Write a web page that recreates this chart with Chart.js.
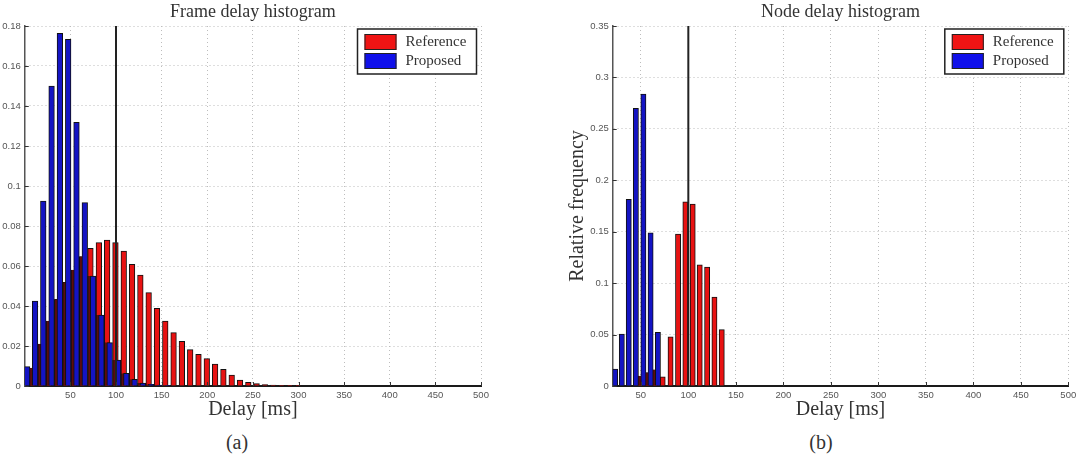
<!DOCTYPE html>
<html>
<head>
<meta charset="utf-8">
<script src="https://cdn.jsdelivr.net/npm/chart.js@4.4.0/dist/chart.umd.min.js"></script>
<style>
  body { margin: 0; background: #fff; width: 1081px; height: 462px; overflow: hidden; position: relative; }
  canvas { position: absolute; top: 0; }
  #frameChart { left: 0; }
  #nodeChart { left: 540px; }
  .caption { position: absolute; top: 430px; width: 60px; text-align: center; font: 20px "Liberation Serif", serif; color: #333; line-height: 24px; }
</style>
</head>
<body>
<canvas id="frameChart" width="490" height="425"></canvas>
<canvas id="nodeChart" width="541" height="425"></canvas>
<div class="caption" style="left:207px">(a)</div>
<div class="caption" style="left:791px">(b)</div>
<script>
const seriesNames = ['Reference', 'Proposed'];
const delayThreshold = 100;

// (a) frame delay histogram
const frameRefDelay = [8.3, 17.4, 26.5, 35.6, 44.7, 53.8, 62.9, 72.0, 81.2, 90.3, 99.4, 108.5, 117.6, 126.7, 135.8, 144.9, 154.0,
  163.1, 172.2, 181.3, 190.4, 199.5, 208.6, 217.7, 226.8, 235.9, 245.0, 254.1, 263.2, 272.3, 281.4, 290.5, 299.6];
const frameRefFreq = [0.009, 0.021, 0.0325, 0.0433, 0.0518, 0.058, 0.0647, 0.0688, 0.0717, 0.073, 0.0717, 0.0675, 0.0608, 0.0555, 0.0467, 0.0388, 0.0325,
  0.0267, 0.0223, 0.0182, 0.0158, 0.0137, 0.011, 0.0083, 0.0055, 0.003, 0.0018, 0.0012, 0.0007, 0.0005, 0.0003, 0.0002, 0.0001];
const frameNewDelay = [2.5, 11.3, 20.3, 29.4, 38.5, 47.6, 56.7, 65.8, 74.9, 84.0, 93.1, 102.2, 111.3, 120.4, 129.5, 138.6, 147.7, 156.8];
const frameNewFreq = [0.0097, 0.0425, 0.0925, 0.150, 0.1763, 0.1733, 0.1318, 0.0917, 0.055, 0.0355, 0.0217, 0.013, 0.0063, 0.0033, 0.0015, 0.0008, 0.0004, 0.0002];
const frameXTicks = [50, 100, 150, 200, 250, 300, 350, 400, 450, 500];
const frameYTicks = [0, 0.02, 0.04, 0.06, 0.08, 0.1, 0.12, 0.14, 0.16, 0.18];

// (b) node delay histogram
const nodeRefDelay = [49.2, 57.0, 65.0, 73.0, 81.3, 89.2, 96.9, 104.6, 112.0, 119.8, 127.5, 135.2];
const nodeRefFreq = [0.0097, 0.013, 0.0158, 0.009, 0.0477, 0.1477, 0.179, 0.1768, 0.1177, 0.1155, 0.0865, 0.0548];
const nodeNewDelay = [23.0, 30.0, 37.3, 44.8, 52.7, 60.3, 68.0];
const nodeNewFreq = [0.0165, 0.0505, 0.1816, 0.27, 0.2839, 0.149, 0.0523];
const nodeXTicks = [50, 100, 150, 200, 250, 300, 350, 400, 450, 500];
const nodeYTicks = [0, 0.05, 0.1, 0.15, 0.2, 0.25, 0.3, 0.35];

const RED = '#e81212';
const DARK_RED = '#5e0c0c';
const BLUE = '#1414c4';
const SERIF = '"Liberation Serif", "Times New Roman", serif';
const SANS = '"Liberation Sans", Arial, sans-serif';

function toPoints(xs, ys) {
    return xs.map((x, i) => ({ x: x, y: ys[i] }));
}

// part of a red bar hidden behind the blue bar just to its right looks dark
function shadedPart(refX, refY, newX, newY) {
    return refX.map((x, i) => {
        const j = newX.findIndex(nx => nx > x && nx - x < 6);
        return { x: x, y: j < 0 ? 0 : Math.min(refY[i], newY[j]) };
    });
}

const boxLegend = {
    id: 'boxLegend',
    afterDraw(chart) {
        const { ctx, chartArea } = chart;
        const w = 119, h = 45;
        const x0 = chartArea.right - 4.5 - w, y0 = chartArea.top + 3;
        ctx.save();
        ctx.fillStyle = '#fff';
        ctx.fillRect(x0, y0, w, h);
        ctx.lineWidth = 1.5;
        ctx.strokeStyle = '#222';
        ctx.strokeRect(x0, y0, w, h);
        ['#f01414', '#1010ea'].forEach((c, i) => {
            const sy = y0 + 5 + i * 19;
            ctx.fillStyle = c;
            ctx.fillRect(x0 + 7, sy, 32, 16);
            ctx.lineWidth = 1;
            ctx.strokeStyle = '#222';
            ctx.strokeRect(x0 + 7.5, sy + 0.5, 31, 15);
            ctx.fillStyle = '#333';
            ctx.font = '15px ' + SERIF;
            ctx.textBaseline = 'middle';
            ctx.fillText(seriesNames[i], x0 + 48, sy + 8.5);
        });
        ctx.restore();
    }
};

const thresholdLine = {
    id: 'thresholdLine',
    afterDatasetsDraw(chart) {
        const { ctx, chartArea, scales } = chart;
        const x = scales.x.getPixelForValue(delayThreshold);
        ctx.save();
        ctx.strokeStyle = '#222';
        ctx.lineWidth = 2;
        ctx.beginPath();
        ctx.moveTo(x, chartArea.top);
        ctx.lineTo(x, chartArea.bottom);
        ctx.stroke();
        // inward tick marks
        ctx.lineWidth = 1;
        ctx.strokeStyle = '#333';
        ctx.beginPath();
        scales.x.ticks.forEach(t => {
            const px = Math.round(scales.x.getPixelForValue(t.value)) + 0.5;
            ctx.moveTo(px, chartArea.bottom);
            ctx.lineTo(px, chartArea.bottom - 4);
        });
        scales.y.ticks.forEach(t => {
            const py = Math.round(scales.y.getPixelForValue(t.value)) + 0.5;
            ctx.moveTo(chartArea.left, py);
            ctx.lineTo(chartArea.left + 4, py);
        });
        ctx.stroke();
        ctx.restore();
    }
};

function createHistogram(canvasId, o) {
    const tickFont = { family: SANS, size: 9.5 };
    new Chart(document.getElementById(canvasId), {
        type: 'bar',
        data: {
            datasets: [
                { label: seriesNames[1], data: toPoints(o.newX, o.newY), backgroundColor: BLUE, order: 0 },
                { label: 'shade', data: shadedPart(o.refX, o.refY, o.newX, o.newY), backgroundColor: DARK_RED,
                  borderWidth: { left: 1, right: 1, top: 0, bottom: 0 }, order: 1 },
                { label: seriesNames[0], data: toPoints(o.refX, o.refY), backgroundColor: RED, order: 2 }
            ]
        },
        options: {
            responsive: false,
            animation: false,
            devicePixelRatio: 1,
            layout: { padding: { left: 0, right: o.padRight, top: 0, bottom: 0 } },
            datasets: {
                bar: { grouped: false, barThickness: o.barWidth, borderColor: '#111', borderWidth: 1 }
            },
            plugins: {
                legend: { display: false },
                tooltip: { enabled: false },
                title: {
                    display: true, text: o.title, fullSize: false, color: '#333',
                    font: { family: SERIF, size: 18, weight: 'normal' },
                    padding: { top: 1, bottom: 3.4 }
                }
            },
            scales: {
                x: {
                    type: 'linear', min: o.xMin, max: 500, offset: false,
                    afterBuildTicks: a => { a.ticks = o.xTicks.map(v => ({ value: v })); },
                    afterFit: a => { a.height = 39; a.paddingLeft = 0; a.paddingRight = 0; },
                    grid: { color: '#bdbdbd', lineWidth: 1, drawTicks: false, offset: false },
                    border: { color: '#1a1a1a', width: 2, dash: [1, 3] },
                    ticks: { font: tickFont, color: '#555', padding: 4, maxRotation: 0, callback: v => String(+v.toFixed(4)) },
                    title: { display: true, text: 'Delay [ms]', color: '#333', font: { family: SERIF, size: 20 }, padding: { top: 0, bottom: 3.5 } }
                },
                y: {
                    min: 0, max: o.yMax,
                    afterBuildTicks: a => { a.ticks = o.yTicks.map(v => ({ value: v })); },
                    afterFit: a => { a.width = o.yWidth; a.paddingTop = 0; a.paddingBottom = 0; },
                    grid: { color: '#bdbdbd', lineWidth: 1, drawTicks: false },
                    border: { color: '#555', width: 1.5, dash: [1, 3] },
                    ticks: { font: tickFont, color: '#555', padding: 4, callback: v => String(+v.toFixed(4)) },
                    title: { display: !!o.yTitle, text: o.yTitle || '', color: '#333', font: { family: SERIF, size: 20 }, padding: { top: 26, bottom: 0 } }
                }
            }
        },
        plugins: [thresholdLine, boxLegend]
    });
}

createHistogram('frameChart', {
    title: 'Frame delay histogram',
    refX: frameRefDelay, refY: frameRefFreq, newX: frameNewDelay, newY: frameNewFreq,
    xTicks: frameXTicks, yTicks: frameYTicks, xMin: 0, yMax: 0.18,
    yWidth: 24.75, padRight: 9, barWidth: 5.6
});

createHistogram('nodeChart', {
    title: 'Node delay histogram',
    refX: nodeRefDelay, refY: nodeRefFreq, newX: nodeNewDelay, newY: nodeNewFreq,
    xTicks: nodeXTicks, yTicks: nodeYTicks, xMin: 20.4, yMax: 0.35,
    yWidth: 72.7, padRight: 12.7, barWidth: 5.2, yTitle: 'Relative frequency'
});
</script>
</body>
</html>
